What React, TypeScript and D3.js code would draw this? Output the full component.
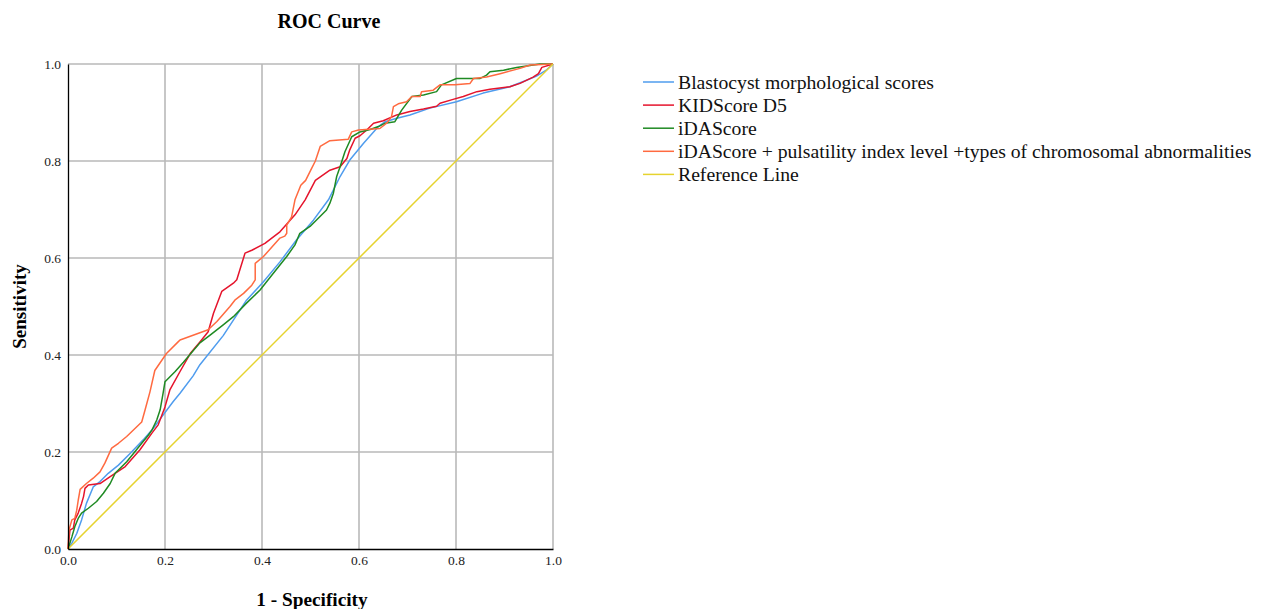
import React, { Component } from 'react'
import * as d3 from 'd3'

// [1 - specificity, sensitivity]
const blastocyst = [[0,0],[0.008,0.012],[0.018,0.032],[0.028,0.06],[0.038,0.094],[0.052,0.128],[0.066,0.139],[0.083,0.156],[0.104,0.173],[0.128,0.197],[0.155,0.225],[0.176,0.249],[0.196,0.276],[0.217,0.304],[0.231,0.321],[0.258,0.357],[0.272,0.38],[0.32,0.44],[0.368,0.513],[0.403,0.551],[0.437,0.592],[0.471,0.637],[0.506,0.678],[0.537,0.72],[0.561,0.768],[0.581,0.802],[0.609,0.836],[0.64,0.871],[0.654,0.881],[0.678,0.888],[0.705,0.895],[0.746,0.909],[0.801,0.922],[0.856,0.94],[0.911,0.953],[0.939,0.964],[0.966,0.975],[0.987,0.988],[1,1]]

const kidScore = [[0,0],[0.004,0.039],[0.011,0.043],[0.014,0.06],[0.021,0.074],[0.028,0.094],[0.032,0.108],[0.035,0.125],[0.042,0.132],[0.066,0.135],[0.087,0.149],[0.118,0.17],[0.148,0.204],[0.173,0.239],[0.186,0.256],[0.2,0.293],[0.21,0.328],[0.231,0.366],[0.252,0.403],[0.272,0.427],[0.289,0.448],[0.3,0.486],[0.317,0.531],[0.341,0.548],[0.348,0.555],[0.365,0.61],[0.379,0.616],[0.406,0.63],[0.437,0.654],[0.468,0.689],[0.489,0.72],[0.51,0.76],[0.54,0.781],[0.561,0.788],[0.575,0.805],[0.581,0.823],[0.592,0.847],[0.602,0.852],[0.616,0.864],[0.63,0.878],[0.65,0.883],[0.678,0.895],[0.705,0.902],[0.733,0.907],[0.76,0.913],[0.767,0.919],[0.794,0.927],[0.815,0.933],[0.843,0.943],[0.87,0.948],[0.911,0.953],[0.932,0.96],[0.959,0.973],[0.97,0.98],[0.977,0.993],[1,1]]

const idaScore = [[0,0],[0.008,0.025],[0.014,0.046],[0.021,0.063],[0.028,0.074],[0.042,0.084],[0.059,0.098],[0.073,0.115],[0.087,0.135],[0.097,0.156],[0.107,0.166],[0.121,0.18],[0.135,0.197],[0.152,0.218],[0.166,0.235],[0.173,0.245],[0.183,0.266],[0.19,0.287],[0.196,0.321],[0.2,0.345],[0.221,0.366],[0.238,0.385],[0.255,0.405],[0.272,0.425],[0.293,0.441],[0.32,0.462],[0.341,0.479],[0.368,0.507],[0.396,0.534],[0.423,0.568],[0.451,0.603],[0.468,0.627],[0.478,0.651],[0.499,0.665],[0.533,0.699],[0.54,0.713],[0.547,0.733],[0.554,0.768],[0.561,0.788],[0.571,0.819],[0.585,0.85],[0.602,0.86],[0.623,0.865],[0.64,0.871],[0.654,0.878],[0.674,0.881],[0.688,0.905],[0.709,0.933],[0.733,0.936],[0.76,0.943],[0.77,0.957],[0.801,0.97],[0.849,0.97],[0.863,0.977],[0.87,0.984],[0.898,0.987],[0.925,0.993],[0.973,1],[1,1]]

const combined = [[0,0],[0.002,0.039],[0.008,0.06],[0.014,0.063],[0.018,0.08],[0.021,0.1],[0.025,0.123],[0.038,0.135],[0.052,0.146],[0.066,0.159],[0.076,0.177],[0.09,0.208],[0.104,0.218],[0.121,0.232],[0.152,0.262],[0.159,0.287],[0.169,0.324],[0.179,0.368],[0.203,0.403],[0.227,0.427],[0.231,0.431],[0.289,0.452],[0.307,0.469],[0.334,0.5],[0.344,0.513],[0.362,0.527],[0.379,0.544],[0.386,0.555],[0.386,0.589],[0.403,0.603],[0.437,0.641],[0.447,0.645],[0.451,0.651],[0.451,0.668],[0.461,0.685],[0.468,0.72],[0.48,0.75],[0.49,0.76],[0.5,0.78],[0.51,0.8],[0.52,0.83],[0.54,0.842],[0.578,0.845],[0.585,0.86],[0.599,0.864],[0.643,0.867],[0.657,0.878],[0.667,0.891],[0.671,0.912],[0.681,0.918],[0.698,0.922],[0.709,0.933],[0.726,0.933],[0.729,0.943],[0.753,0.946],[0.767,0.957],[0.798,0.957],[0.829,0.96],[0.836,0.97],[0.863,0.973],[0.891,0.98],[0.932,0.991],[0.953,0.998],[1,1]]

const referenceLine = [[0,0],[1,1]]

const seriesNames = [
  'Blastocyst morphological scores',
  'KIDScore D5',
  'iDAScore',
  'iDAScore + pulsatility index level +types of chromosomal abnormalities',
  'Reference Line'
]
const seriesData = [blastocyst, kidScore, idaScore, combined, referenceLine]
const seriesColors = ['#4f9cee', '#e5142c', '#1f8a23', '#ff6a40', '#e6d32e']

const ticks = [0, 0.2, 0.4, 0.6, 0.8, 1.0]

class App extends Component {
  svgRef = React.createRef<SVGSVGElement>()

  componentDidMount() {
    this.renderChart()
  }

  renderChart = () => {
    const margin = { top: 64, left: 68 }
    const w = 485
    const h = 485
    const font = '"Liberation Serif", "Times New Roman", serif'

    const svg = d3.select(this.svgRef.current)
    svg.selectAll('*').remove()

    const x = d3.scaleLinear().domain([0, 1]).range([0, w])
    const y = d3.scaleLinear().domain([0, 1]).range([h, 0])

    const g = svg.append('g').attr('transform', `translate(${margin.left}, ${margin.top})`)

    // grid
    g.selectAll('.vgrid').data(ticks.slice(1)).join('line').attr('class', 'vgrid')
      .attr('x1', d => x(d)).attr('x2', d => x(d)).attr('y1', 0).attr('y2', h)
      .attr('stroke', '#b9b9b9').attr('stroke-width', 1.6)
    g.selectAll('.hgrid').data(ticks.slice(1)).join('line').attr('class', 'hgrid')
      .attr('x1', 0).attr('x2', w).attr('y1', d => y(d)).attr('y2', d => y(d))
      .attr('stroke', '#b9b9b9').attr('stroke-width', 1.6)

    // curves
    const line = d3.line<number[]>().x(d => x(d[0])).y(d => y(d[1]))
    g.selectAll('.curve').data(seriesData).join('path').attr('class', 'curve')
      .attr('d', d => line(d))
      .attr('fill', 'none')
      .attr('stroke', (d, i) => seriesColors[i])
      .attr('stroke-width', 1.5)
      .attr('stroke-linejoin', 'round')

    // axes
    const xAxis = g.append('g').attr('transform', `translate(0, ${h})`)
      .call(d3.axisBottom(x).tickValues(ticks).tickFormat(d3.format('.1f')).tickSize(0).tickPadding(8))
    const yAxis = g.append('g')
      .call(d3.axisLeft(y).tickValues(ticks).tickFormat(d3.format('.1f')).tickSize(0).tickPadding(7))
    ;[xAxis, yAxis].forEach(a => {
      a.select('.domain').attr('stroke', '#000').attr('stroke-width', 1.3)
      a.selectAll('text').attr('font-family', font).attr('font-size', 13.5).attr('fill', '#222')
    })
    xAxis.selectAll('text').attr('dy', '0.62em')

    // titles
    svg.append('text').text('ROC Curve')
      .attr('x', 329).attr('y', 28)
      .attr('text-anchor', 'middle').attr('font-family', font).attr('font-weight', 'bold').attr('font-size', 20)
    svg.append('text').text('1 - Specificity')
      .attr('x', 312).attr('y', 606)
      .attr('text-anchor', 'middle').attr('font-family', font).attr('font-weight', 'bold').attr('font-size', 19.3)
    svg.append('text').text('Sensitivity')
      .attr('transform', `translate(26, ${margin.top + h / 2}) rotate(-90)`)
      .attr('text-anchor', 'middle').attr('font-family', font).attr('font-weight', 'bold').attr('font-size', 19)

    // legend
    const legend = svg.append('g').attr('transform', 'translate(643, 82)')
    const rows = legend.selectAll('.row').data(seriesNames).join('g').attr('class', 'row')
      .attr('transform', (d, i) => `translate(0, ${i * 23.1})`)
    rows.append('line').attr('x1', 0).attr('x2', 31).attr('y1', 0).attr('y2', 0)
      .attr('stroke', (d, i) => seriesColors[i]).attr('stroke-width', 1.5)
    rows.append('text').text(d => d).attr('x', 35).attr('y', 0).attr('dy', '0.33em')
      .attr('font-family', font).attr('font-size', 19.7).attr('fill', '#111')
  }

  render() {
    return (
      <svg ref={this.svgRef} width={1279} height={609}
        style={{ position: 'absolute', left: 0, top: 0, background: '#fff' }} />
    )
  }
}

export default App
